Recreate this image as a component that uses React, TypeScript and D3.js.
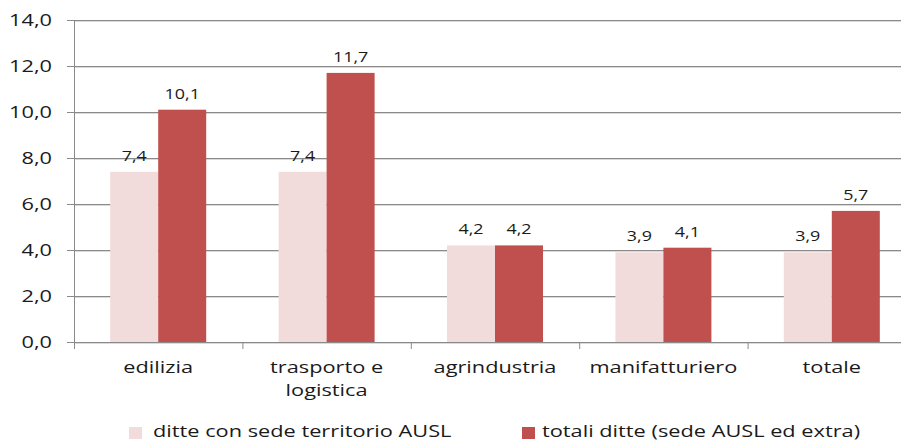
import React from "react";
import * as d3 from "d3";

const categories = ["edilizia", "trasporto e\nlogistica", "agrindustria", "manifatturiero", "totale"];
const seriesNames = ["ditte con sede territorio AUSL", "totali ditte (sede AUSL ed extra)"];
const seriesLocal = [7.4, 7.4, 4.2, 3.9, 3.9];
const seriesTotal = [10.1, 11.7, 4.2, 4.1, 5.7];
const yTicks = [0, 2, 4, 6, 8, 10, 12, 14];
const colors = ["#f2dcdb", "#c0504d"];

const W = 901;
const H = 441;
const FONT = "'Open Sans', 'Noto Sans', sans-serif";
const SX = 1.28;

function SText(props: { x: number; y: number; size: number; anchor?: string; children: React.ReactNode }) {
  return (
    <text
      transform={`translate(${props.x},${props.y}) scale(${SX},1)`}
      textAnchor={props.anchor || "start"}
      fontSize={props.size}
      fill="#1a1a1a"
    >
      {props.children}
    </text>
  );
}

export default function App() {
  const left = 74;
  const step = 168.4;
  const x0 = d3.scaleBand<string>().domain(categories).range([left, left + step * categories.length]).padding(0);
  const x1 = d3.scaleBand<number>().domain([0, 1]).range([0, x0.bandwidth()]).paddingInner(0).paddingOuter(0.754);
  const y = d3.scaleLinear().domain([0, 14]).range([342, 20]);
  const fmt = (v: number) => v.toFixed(1).replace(".", ",");
  const series = [seriesLocal, seriesTotal];
  const legendX = [[129, 153], [522, 542]];

  return (
    <div style={{ position: "fixed", left: 0, top: 0, width: W, height: H, background: "#fff" }}>
      <svg width={W} height={H} style={{ display: "block", fontFamily: FONT }}>
        {yTicks.map((t) => (
          <g key={t}>
            <line x1={left - 7} x2={W} y1={y(t) + 0.5} y2={y(t) + 0.5} stroke="#8a8a8a" strokeWidth={1} />
            <line x1={left} x2={W} y1={y(t) + 1.5} y2={y(t) + 1.5} stroke="#dadada" strokeWidth={1} />
            <SText x={52} y={y(t) + 6} size={17} anchor="end">
              {fmt(t)}
            </SText>
          </g>
        ))}
        <line x1={left + 0.5} x2={left + 0.5} y1={y(14)} y2={y(0) + 7} stroke="#8a8a8a" />
        {categories.map((c, i) => (
          <line key={"t" + i} x1={x0(c)! + 0.5} x2={x0(c)! + 0.5} y1={y(0)} y2={y(0) + 7} stroke="#8a8a8a" />
        ))}
        {categories.map((c, i) => (
          <g key={c} transform={`translate(${x0(c)},0)`}>
            {series.map((s, k) => (
              <g key={k}>
                <rect x={x1(k)} y={y(s[i])} width={x1.bandwidth()} height={y(0) - y(s[i])} fill={colors[k]} />
                <SText x={x1(k)! + x1.bandwidth() / 2} y={y(s[i]) - 11} size={14} anchor="middle">
                  {fmt(s[i])}
                </SText>
              </g>
            ))}
            {c.split("\n").map((line, j) => (
              <SText key={j} x={x0.bandwidth() / 2} y={373 + j * 23} size={17} anchor="middle">
                {line}
              </SText>
            ))}
          </g>
        ))}
        {seriesNames.map((n, k) => (
          <g key={n}>
            <rect x={legendX[k][0]} y={427} width={13} height={12} fill={colors[k]} />
            <SText x={legendX[k][1]} y={437} size={17}>
              {n}
            </SText>
          </g>
        ))}
      </svg>
    </div>
  );
}
